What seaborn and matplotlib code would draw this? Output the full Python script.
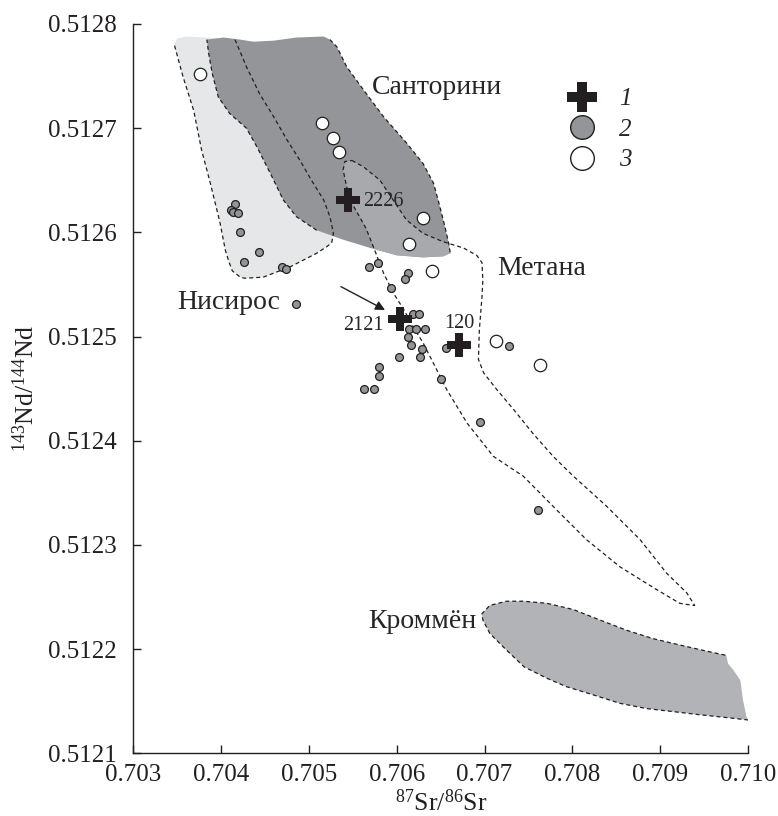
import numpy as np
import matplotlib
matplotlib.use("Agg")
import matplotlib.pyplot as plt
import seaborn as sns
from matplotlib.lines import Line2D
from matplotlib.patches import Polygon

# ---------------- data ----------------
x_ticks = [0.703, 0.704, 0.705, 0.706, 0.707, 0.708, 0.709, 0.710]
y_ticks = [0.5121, 0.5122, 0.5123, 0.5124, 0.5125, 0.5126, 0.5127, 0.5128]

# group 2 (grey circles)
pts2_x = [0.70416, 0.70411, 0.70414, 0.70419, 0.70422, 0.70443, 0.70426, 0.70469, 0.70474,
          0.70485, 0.70568, 0.70579, 0.70613, 0.70609, 0.70594, 0.70618, 0.70625, 0.70614,
          0.70622, 0.70632, 0.70613, 0.70616, 0.70629, 0.70603, 0.70627, 0.70656, 0.70728,
          0.70580, 0.70580, 0.70563, 0.70574, 0.70650, 0.70695, 0.70761]
pts2_y = [0.512627, 0.512621, 0.512620, 0.512619, 0.512600, 0.512581, 0.512572, 0.512567,
          0.512565, 0.512531, 0.512567, 0.512571, 0.512561, 0.512555, 0.512547, 0.512522,
          0.512522, 0.512507, 0.512507, 0.512507, 0.512500, 0.512492, 0.512488, 0.512480,
          0.512480, 0.512489, 0.512491, 0.512471, 0.512462, 0.512450, 0.512450, 0.512459,
          0.512418, 0.512334]

# group 3 (open circles)
pts3_x = [0.70376, 0.70515, 0.70528, 0.70534, 0.70630, 0.70614, 0.70640, 0.70713, 0.70763]
pts3_y = [0.512752, 0.512705, 0.512691, 0.512677, 0.512614, 0.512589, 0.512563, 0.512496, 0.512473]

# group 1 (crosses)
cross_x = [0.70545, 0.70604, 0.70671]
cross_y = [0.512631, 0.512517, 0.512492]
cross_labels = ["2226", "2121", "120"]

legend_labels = ["1", "2", "3"]

# field outlines
santorini_x = [0.70384, 0.70403, 0.70422, 0.70437, 0.70460, 0.70486, 0.70517, 0.70524,
               0.70532, 0.70543, 0.70562, 0.70585, 0.70611, 0.70630, 0.70642, 0.70649, 0.70655, 0.70659, 0.70661,
               0.70653, 0.70630, 0.70600, 0.70570, 0.70539, 0.70509, 0.70486,
               0.70471, 0.70456, 0.70441, 0.70429, 0.70410, 0.70397, 0.70390, 0.70386]
santorini_y = [0.512785, 0.512787, 0.512785, 0.512783, 0.512784, 0.512787, 0.512788, 0.512785,
               0.512778, 0.512759, 0.512737, 0.512711, 0.512686, 0.512666, 0.512647, 0.512625, 0.512605, 0.512590, 0.512580,
               0.512577, 0.512576, 0.512578, 0.512585, 0.512593, 0.512602, 0.512615,
               0.512631, 0.512657, 0.512682, 0.512700, 0.512714, 0.512730, 0.512753, 0.512772]

nisyros_x = [0.70350, 0.70361, 0.70384, 0.70416,
             0.70429, 0.70444, 0.70460, 0.70475, 0.70490, 0.70503, 0.70517, 0.70524, 0.70528, 0.70526,
             0.70520, 0.70509, 0.70479, 0.70448, 0.70427, 0.70422, 0.70413, 0.70409,
             0.70405, 0.70399, 0.70388, 0.70378, 0.70369, 0.70357, 0.70347]
nisyros_y = [0.512786, 0.512788, 0.512787, 0.512785,
             0.512759, 0.512733, 0.512711, 0.512689, 0.512669, 0.512650, 0.512631, 0.512615, 0.512599, 0.512590,
             0.512586, 0.512580, 0.512567, 0.512557, 0.512556, 0.512557, 0.512563, 0.512572,
             0.512583, 0.512609, 0.512647, 0.512679, 0.512717, 0.512749, 0.512780]

metana_x = [0.70549, 0.70562, 0.70581, 0.70596, 0.70611, 0.70630, 0.70653, 0.70676, 0.70691, 0.70697,
            0.70698, 0.70697, 0.70694, 0.70693, 0.70699, 0.70714, 0.70733, 0.70755, 0.70778, 0.70801,
            0.70839, 0.70877, 0.70907, 0.70930, 0.70939, 0.70937,
            0.70922, 0.70896, 0.70854, 0.70816, 0.70778, 0.70744, 0.70710, 0.70680, 0.70657, 0.70642,
            0.70630, 0.70619, 0.70608, 0.70596, 0.70585, 0.70574, 0.70565, 0.70551, 0.70543, 0.70539, 0.70541]
metana_y = [0.512669, 0.512663, 0.512650, 0.512631, 0.512612, 0.512599, 0.512591, 0.512585, 0.512578, 0.512571,
            0.512554, 0.512538, 0.512506, 0.512478, 0.512465, 0.512449, 0.512430, 0.512407, 0.512385, 0.512366,
            0.512337, 0.512305, 0.512273, 0.512254, 0.512242, 0.512242,
            0.512244, 0.512257, 0.512279, 0.512305, 0.512337, 0.512366, 0.512385, 0.512417, 0.512449, 0.512474,
            0.512494, 0.512509, 0.512526, 0.512542, 0.512561, 0.512585, 0.512604, 0.512625, 0.512644, 0.512660, 0.512668]

krommyon_x = [0.70697, 0.70706, 0.70725, 0.70744, 0.70771, 0.70801, 0.70831, 0.70862, 0.70892, 0.70922, 0.70953, 0.70975,
              0.70977, 0.70983, 0.70991, 0.70994, 0.70998, 0.71000,
              0.70979, 0.70945, 0.70915, 0.70884, 0.70854, 0.70824, 0.70793, 0.70771, 0.70745, 0.70725, 0.70706, 0.70698]
krommyon_y = [0.512234, 0.512242, 0.512246, 0.512246, 0.512244, 0.512238, 0.512228, 0.512218, 0.512210, 0.512204, 0.512198, 0.512194,
              0.512186, 0.512180, 0.512170, 0.512151, 0.512135, 0.512132,
              0.512134, 0.512137, 0.512140, 0.512143, 0.512148, 0.512156, 0.512164, 0.512172, 0.512183, 0.512199, 0.512215, 0.512228]

# ---------------- style ----------------
sns.set_style("ticks")
plt.rcParams["font.family"] = ["Liberation Serif", "DejaVu Serif"]
plt.rcParams["mathtext.fontset"] = "custom"
plt.rcParams["mathtext.rm"] = "Liberation Serif"
plt.rcParams["mathtext.it"] = "Liberation Serif:italic"

INK = "#231f20"
C_SANT = "#939598"
C_NIS = "#e6e7e8"
C_MET = "#a7a9ac"
C_KROM = "#b1b3b6"
DASH = (0, (3.2, 2.4))

fig = plt.figure(figsize=(7.78, 8.16), dpi=100)
ax = fig.add_axes([0.1710, 0.0768, 0.7908, 0.8938])

# fills
ax.fill(nisyros_x, nisyros_y, color=C_NIS, lw=0, zorder=1)
sant_patch = Polygon(np.column_stack([santorini_x, santorini_y]), closed=True,
                     facecolor=C_SANT, edgecolor="none", zorder=2)
ax.add_patch(sant_patch)
met_fill = ax.fill(metana_x, metana_y, color=C_MET, lw=0, zorder=3)[0]
met_fill.set_clip_path(sant_patch)
ax.fill(krommyon_x, krommyon_y, color=C_KROM, lw=0, zorder=2)

# dashed outlines
lw_d = 0.9
ax.plot(nisyros_x[3:], nisyros_y[3:], color=INK, lw=lw_d, ls=DASH, zorder=4)
ax.plot(santorini_x[7:19], santorini_y[7:19], color=INK, lw=lw_d, ls=DASH, zorder=4)
ax.plot(santorini_x[24:] + santorini_x[:1], santorini_y[24:] + santorini_y[:1],
        color=INK, lw=lw_d, ls=DASH, zorder=4)
ax.plot(metana_x + metana_x[:1], metana_y + metana_y[:1], color=INK, lw=lw_d, ls=DASH, zorder=4)
ax.plot(krommyon_x[17:] + krommyon_x[:12], krommyon_y[17:] + krommyon_y[:12],
        color=INK, lw=lw_d, ls=DASH, zorder=4)

# points
sns.scatterplot(x=pts2_x, y=pts2_y, ax=ax, s=32, color=C_SANT, edgecolor=INK,
                linewidth=0.9, zorder=5, legend=False)
sns.scatterplot(x=pts3_x, y=pts3_y, ax=ax, s=80, color="white", edgecolor=INK,
                linewidth=0.9, zorder=5, legend=False)
sns.scatterplot(x=cross_x, y=cross_y, ax=ax, s=280, marker="P", color=INK,
                edgecolor=INK, linewidth=0, zorder=6, legend=False)

# annotations
ax.text(cross_x[0] + 0.00017, cross_y[0] - 0.000001, cross_labels[0], fontsize=14.5,
        ha="left", va="center", zorder=7)
ax.text(0.705856, 0.512511, cross_labels[1], fontsize=14.5, ha="right", va="center", zorder=7)
ax.text(0.706709, 0.512513, cross_labels[2], fontsize=14.5, ha="center", va="center", zorder=7)
ax.annotate("", xy=(0.705867, 0.5125255), xytext=(0.705366, 0.5125479),
            arrowprops=dict(arrowstyle="-|>", color=INK, lw=1.0, mutation_scale=14,
                            shrinkA=0, shrinkB=0), zorder=7)

ax.text(0.70572, 0.5127395, "Санторини", fontsize=20, ha="left", va="center")
ax.text(0.70714, 0.5125650, "Метана", fontsize=20, ha="left", va="center")
ax.text(0.70350, 0.5125325, "Нисирос", fontsize=20, ha="left", va="center")
ax.text(0.70691, 0.512227, "Кроммён", fontsize=20, ha="right", va="center")

# legend
handles = [
    Line2D([], [], ls="none", marker="P", markersize=21, markerfacecolor=INK, markeredgecolor=INK, markeredgewidth=0),
    Line2D([], [], ls="none", marker="o", markersize=17, markerfacecolor=C_SANT, markeredgecolor=INK, markeredgewidth=1.0),
    Line2D([], [], ls="none", marker="o", markersize=17, markerfacecolor="white", markeredgecolor=INK, markeredgewidth=1.0),
]
ax.legend(handles, legend_labels, loc="upper left", bbox_to_anchor=(0.699, 0.9125),
          frameon=False, prop={"style": "italic", "size": 18}, handlelength=1.5,
          handletextpad=0.75, labelspacing=0.32, borderpad=0, borderaxespad=0)

# axes
ax.set_xlim(x_ticks[0], x_ticks[-1])
ax.set_ylim(y_ticks[0], y_ticks[-1])
ax.set_xticks(x_ticks)
ax.set_yticks(y_ticks)
ax.set_xticklabels([f"{v:.3f}" for v in x_ticks])
ax.set_yticklabels([f"{v:.4f}" for v in y_ticks])
ax.tick_params(direction="in", length=6, width=1, colors=INK, labelsize=18, pad=8)
ax.tick_params(axis="y", pad=12)
sns.despine(ax=ax)
for s in ("left", "bottom"):
    ax.spines[s].set_color(INK)
    ax.spines[s].set_linewidth(1.0)
ax.set_xlabel("$^{87}$Sr/$^{86}$Sr", fontsize=18.5, labelpad=2, color=INK)
ax.set_ylabel("$^{143}$Nd/$^{144}$Nd", fontsize=18.5, labelpad=6, color=INK)
ax.grid(False)

fig.savefig("out.png", dpi=100)
